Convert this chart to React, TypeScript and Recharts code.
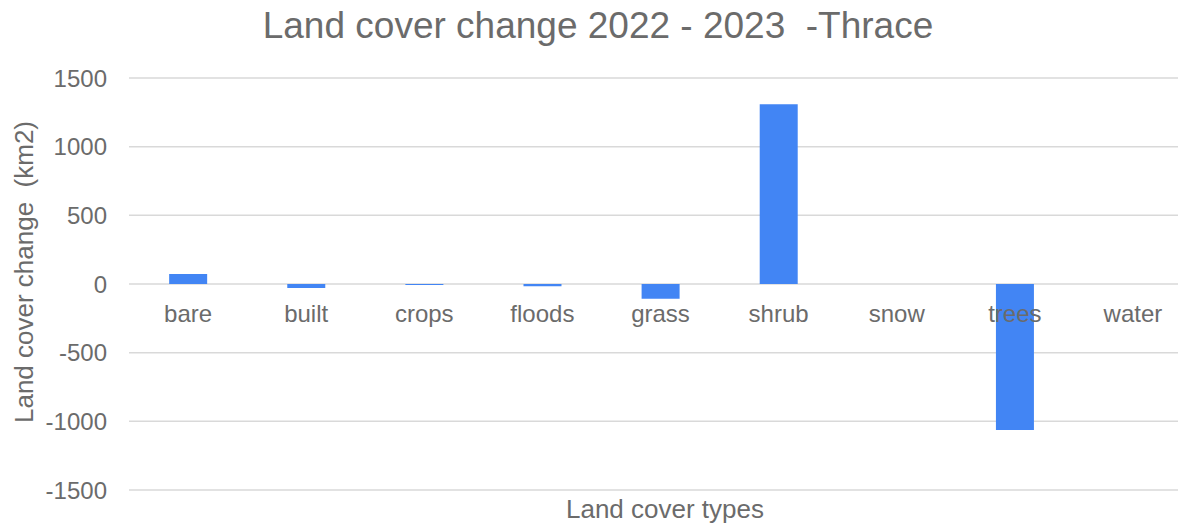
import * as React from "react";
import { Bar, BarChart, CartesianGrid, XAxis, YAxis } from "recharts";

// Land cover change 2022 -> 2023, Thrace (km2)
const categories = ["bare", "built", "crops", "floods", "grass", "shrub", "snow", "trees", "water"];
const changeKm2 = [73, -29, -8, -16, -107, 1309, 0, -1063, 0];
const yTicks = [-1500, -1000, -500, 0, 500, 1000, 1500];

const data = categories.map((type, i) => ({ type, change: changeKm2[i] }));

const FONT = '"Liberation Sans", Arial, sans-serif';
const TEXT = "#6b6b6b";
const BAR = "#4285F4";

// plot runs a little past the right edge of the picture, as in the original
const W = 1196;
const H = 524;
const M = { top: 78, right: 4, left: 0, bottom: 0 };
const X_AXIS_H = 34;
const Y_AXIS_W = 129;

const yMin = yTicks[0];
const yMax = yTicks[yTicks.length - 1];
const plotH = H - M.top - M.bottom - X_AXIS_H;
// y pixel of the zero line, from the linear scale of the domain
const zeroY = M.top + (plotH * yMax) / (yMax - yMin);

function CategoryTick(props: any) {
  const { x, payload } = props;
  return (
    <text x={x} y={zeroY + 38} textAnchor="middle" fill={TEXT} fontSize={24} fontFamily={FONT}>
      {payload.value}
    </text>
  );
}

export default function App() {
  return (
    <div style={{ position: "absolute", left: 0, top: 0, width: 1178, height: 524, overflow: "hidden", background: "#fff" }}>
      <BarChart width={W} height={H} data={data} margin={M} barCategoryGap="34%">
        <CartesianGrid vertical={false} stroke="#d9d9d9" strokeWidth={1.5} />
        <XAxis
          dataKey="type"
          height={X_AXIS_H}
          axisLine={false}
          tickLine={false}
          interval={0}
          tick={<CategoryTick />}
          label={{
            content: () => (
              <text x={665} y={518} textAnchor="middle" fill={TEXT} fontSize={26} fontFamily={FONT}>
                Land cover types
              </text>
            ),
          }}
        />
        <YAxis
          width={Y_AXIS_W}
          domain={[yMin, yMax]}
          ticks={yTicks}
          axisLine={false}
          tickLine={false}
          tickSize={0}
          tickMargin={22}
          tick={{ fill: TEXT, fontSize: 24, fontFamily: FONT }}
          label={{
            content: () => (
              <text
                x={33}
                y={272}
                transform="rotate(-90, 33, 272)"
                textAnchor="middle"
                fill={TEXT}
                fontSize={26}
                fontFamily={FONT}
                style={{ whiteSpace: "pre" }}
              >
                {"Land cover change  (km2)"}
              </text>
            ),
          }}
        />
        <Bar dataKey="change" fill={BAR} isAnimationActive={false} />
      </BarChart>
      <svg width={1178} height={60} style={{ position: "absolute", left: 0, top: 0, pointerEvents: "none" }}>
        <text x={598} y={38} textAnchor="middle" fill={TEXT} fontSize={37} fontFamily={FONT} style={{ whiteSpace: "pre" }}>
          {"Land cover change 2022 - 2023  -Thrace"}
        </text>
      </svg>
    </div>
  );
}
